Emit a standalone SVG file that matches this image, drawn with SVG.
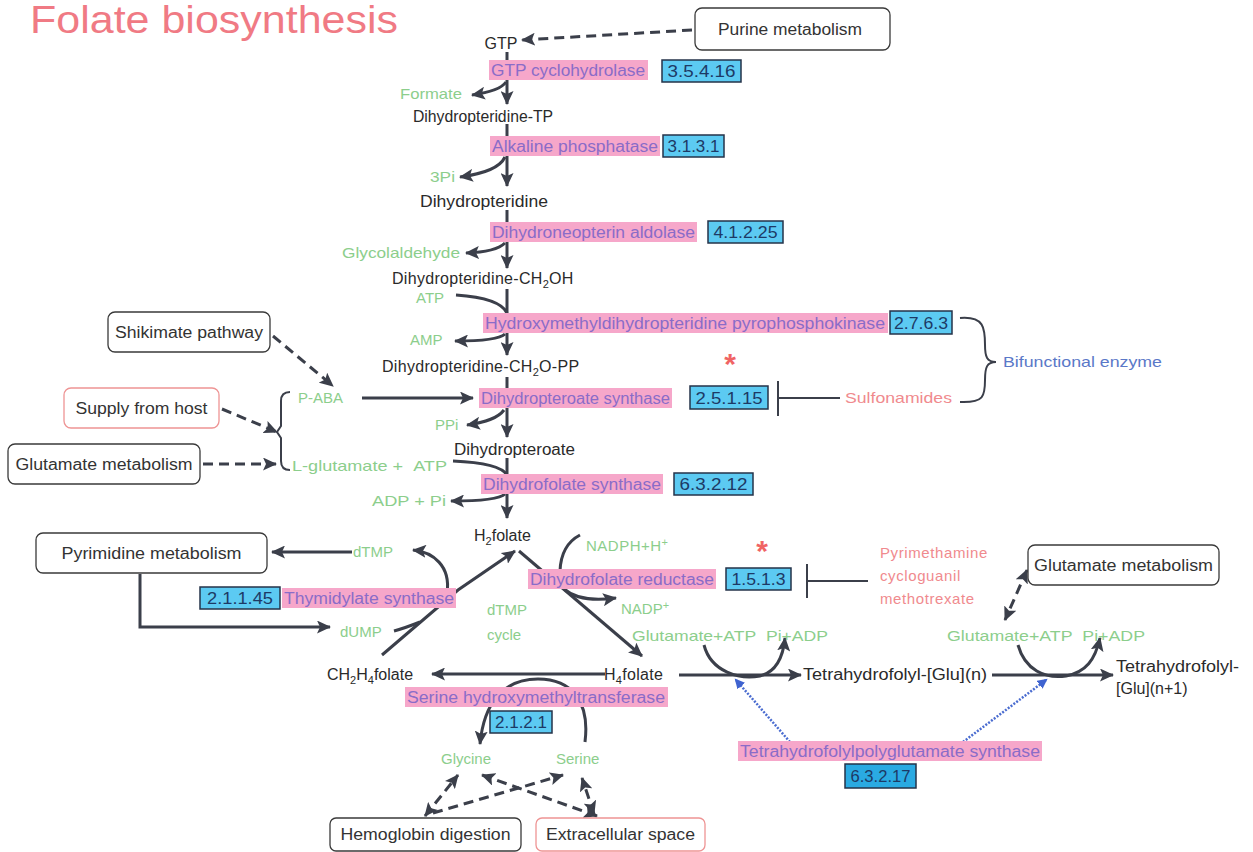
<svg xmlns="http://www.w3.org/2000/svg" width="1253" height="852" viewBox="0 0 1253 852">
<defs>
<marker id="ah" markerUnits="userSpaceOnUse" markerWidth="15" markerHeight="13" refX="13" refY="6.5" orient="auto-start-reverse"><path d="M0,0 L14,6.5 L0,13 L3,6.5 Z" fill="#3b3f4a"/></marker>
<marker id="ahb" markerUnits="userSpaceOnUse" markerWidth="12" markerHeight="10" refX="8" refY="5" orient="auto"><path d="M0,0 L10,5 L0,10 Z" fill="#3f63d0"/></marker>
<style>
text{font-family:"Liberation Sans",Arial,sans-serif;}
.m{font-size:16px;fill:#2a2a2a;}
.g{font-size:15px;fill:#8cce8c;}
.r{font-size:15px;fill:#f08a8e;}
.b{font-size:15px;fill:#5a78c8;}
.e{font-size:16px;fill:#8a6cc8;}
.ec{font-size:16.5px;fill:#1d3a66;text-anchor:middle;}
.bt{font-size:16px;fill:#333;text-anchor:middle;}
.pk{fill:#f6a7ca;}
.ecb{fill:#5ccaf2;stroke:#253349;stroke-width:1.5;}
.box{fill:#fff;stroke:#3a3a3a;stroke-width:1.3;}
.boxr{fill:#fff;stroke:#ee9494;stroke-width:1.3;}
.c{fill:none;stroke:#3b3f4a;stroke-width:3;}
.d{fill:none;stroke:#3b3f4a;stroke-width:3;stroke-dasharray:10 6;}
.bl{fill:none;stroke:#4a6cd0;stroke-width:2.5;stroke-dasharray:2 1.5;}
.in{fill:none;stroke:#3b3f4a;stroke-width:2;}
</style>
</defs>
<rect width="1253" height="852" fill="#fff"/>
<text x="30" y="33" font-size="38" fill="#f07a84" textLength="368" lengthAdjust="spacingAndGlyphs">Folate biosynthesis</text>

<g id="connectors">
<path class="c" d="M507,52 L507,104" marker-end="url(#ah)"/>
<path class="c" d="M506,82 Q500,91 472,95" marker-end="url(#ah)"/>
<path class="c" d="M507,124 L507,186" marker-end="url(#ah)"/>
<path class="c" d="M505,157 Q498,172 460,177" marker-end="url(#ah)"/>
<path class="c" d="M507,210 L507,268" marker-end="url(#ah)"/>
<path class="c" d="M505,243 Q496,252 466,253" marker-end="url(#ah)"/>
<path class="c" d="M507,289 L507,355" marker-end="url(#ah)"/>
<path class="c" d="M456,295 Q500,298 507,313"/>
<path class="c" d="M505,334 Q498,341 455,341" marker-end="url(#ah)"/>
<path class="c" d="M507,377 L507,437" marker-end="url(#ah)"/>
<path class="c" d="M504,410 Q496,421 467,425" marker-end="url(#ah)"/>
<path class="c" d="M362,398 L473,398" marker-end="url(#ah)"/>
<path class="c" d="M507,458 L507,518" marker-end="url(#ah)"/>
<path class="c" d="M453,461 Q500,463 507,475"/>
<path class="c" d="M505,494 Q498,501 451,501" marker-end="url(#ah)"/>
<path class="d" d="M692,30 L522,40" marker-end="url(#ah)"/>
<path class="d" d="M273,336 L333,386" marker-end="url(#ah)"/>
<path class="d" d="M222,409 L277,432" marker-end="url(#ah)"/>
<path class="d" d="M203,464 L276,464" marker-end="url(#ah)"/>
<path class="in" stroke-width="2.5" d="M290,392 Q281,392 281,401 L281,426 L277,432 L281,438 L281,461 Q281,470 290,470"/>
<path class="in" stroke-width="2.5" d="M960,318 C984,316 985,328 985,345 C985,357 987,362 996,362 C987,362 985,367 985,380 C985,396 984,403 960,402"/>
<path class="in" d="M778,381 L778,416 M778,398 L840,398"/>
<path class="in" d="M807,564 L807,598 M807,581 L868,581"/>
<path class="c" d="M352,552 L272,552" marker-end="url(#ah)"/>
<path class="c" d="M447,593 C451,566 433,552 413,550" marker-end="url(#ah)"/>
<path class="c" d="M140,574 L140,627 L330,627" marker-end="url(#ah)"/>
<path class="c" d="M394,631 Q405,628 420,622"/>
<path class="c" d="M382,655 L458,590 L515,551" marker-end="url(#ah)"/>
<path class="c" d="M519,551 L642,656" marker-end="url(#ah)"/>
<path class="c" d="M560,571 Q561,545 580,535"/>
<path class="c" d="M564,589 Q580,603 616,598" marker-end="url(#ah)"/>
<path class="c" d="M605,674 L432,674" marker-end="url(#ah)"/>
<path class="c" d="M585,742 C590,702 572,679 538,679 C504,679 484,702 480,744" marker-end="url(#ah)"/>
<path class="c" d="M679,675 L801,675" marker-end="url(#ah)"/>
<path class="c" d="M704,645 C711,672 740,680 760,676 C776,672 783,658 785,638" marker-end="url(#ah)"/>
<path class="c" d="M992,675 L1113,675" marker-end="url(#ah)"/>
<path class="c" d="M1018,645 C1025,670 1045,679 1066,676 C1086,672 1095,660 1100,638" marker-end="url(#ah)"/>
<path class="d" d="M1027,570 L1005,620" marker-start="url(#ah)" marker-end="url(#ah)"/>
<path class="bl" d="M790,742 L736,680" marker-end="url(#ahb)"/>
<path class="bl" d="M963,742 L1046,680" marker-end="url(#ahb)"/>
<path class="d" d="M425,816 L458,775" marker-start="url(#ah)" marker-end="url(#ah)"/>
<path class="d" d="M433,813 L563,775" marker-end="url(#ah)"/>
<path class="d" d="M597,816 L482,775" marker-start="url(#ah)" marker-end="url(#ah)"/>
<path class="d" d="M594,814 L582,778" marker-start="url(#ah)" marker-end="url(#ah)"/>
</g>

<g id="enzymes">
<g id="e-gtpch"><rect class="pk" x="489" y="60" width="159" height="20"/><text class="e" x="491" y="76" textLength="154" lengthAdjust="spacingAndGlyphs">GTP cyclohydrolase</text><rect class="ecb" x="662" y="60" width="79" height="22"/><text class="ec" x="701.5" y="77" textLength="68" lengthAdjust="spacingAndGlyphs">3.5.4.16</text></g>
<g id="e-alp"><rect class="pk" x="490" y="136" width="170" height="20"/><text class="e" x="492" y="152" textLength="166" lengthAdjust="spacingAndGlyphs">Alkaline phosphatase</text><rect class="ecb" x="663" y="135" width="61" height="22"/><text class="ec" x="693.5" y="152" textLength="52" lengthAdjust="spacingAndGlyphs">3.1.3.1</text></g>
<g id="e-dna"><rect class="pk" x="490" y="222" width="207" height="20"/><text class="e" x="492" y="238" textLength="203" lengthAdjust="spacingAndGlyphs">Dihydroneopterin aldolase</text><rect class="ecb" x="708" y="221" width="75" height="22"/><text class="ec" x="745.5" y="238" textLength="64" lengthAdjust="spacingAndGlyphs">4.1.2.25</text></g>
<g id="e-hppk"><rect class="pk" x="483" y="313" width="405" height="20"/><text class="e" x="485" y="329" textLength="400" lengthAdjust="spacingAndGlyphs">Hydroxymethyldihydropteridine pyrophosphokinase</text><rect class="ecb" x="890" y="311" width="62" height="23"/><text class="ec" x="921" y="328.5" textLength="54" lengthAdjust="spacingAndGlyphs">2.7.6.3</text></g>
<g id="e-dhps"><rect class="pk" x="479" y="388" width="193" height="20"/><text class="e" x="481" y="404" textLength="189" lengthAdjust="spacingAndGlyphs">Dihydropteroate synthase</text><rect class="ecb" x="690" y="386" width="78" height="23"/><text class="ec" x="729" y="403.5" textLength="67" lengthAdjust="spacingAndGlyphs">2.5.1.15</text></g>
<g id="e-dhfs"><rect class="pk" x="481" y="474" width="182" height="20"/><text class="e" x="483" y="490" textLength="178" lengthAdjust="spacingAndGlyphs">Dihydrofolate synthase</text><rect class="ecb" x="674" y="473" width="79" height="22"/><text class="ec" x="713.5" y="490" textLength="68" lengthAdjust="spacingAndGlyphs">6.3.2.12</text></g>
<g id="e-ts"><rect class="pk" x="282" y="588" width="174" height="20"/><text class="e" x="284" y="604" textLength="170" lengthAdjust="spacingAndGlyphs">Thymidylate synthase</text><rect class="ecb" x="200" y="587" width="80" height="22"/><text class="ec" x="240" y="604" textLength="66" lengthAdjust="spacingAndGlyphs">2.1.1.45</text></g>
<g id="e-dhfr"><rect class="pk" x="528" y="569" width="188" height="20"/><text class="e" x="530" y="585" textLength="184" lengthAdjust="spacingAndGlyphs">Dihydrofolate reductase</text><rect class="ecb" x="726" y="568" width="65" height="22"/><text class="ec" x="758.5" y="585" textLength="54" lengthAdjust="spacingAndGlyphs">1.5.1.3</text></g>
<g id="e-shmt"><rect class="pk" x="405" y="687" width="263" height="20"/><text class="e" x="407" y="703" textLength="258" lengthAdjust="spacingAndGlyphs">Serine hydroxymethyltransferase</text><rect class="ecb" x="490" y="711" width="62" height="22"/><text class="ec" x="521" y="728" textLength="52" lengthAdjust="spacingAndGlyphs">2.1.2.1</text></g>
<g id="e-fpgs"><rect class="pk" x="738" y="741" width="304" height="20"/><text class="e" x="740" y="757" textLength="300" lengthAdjust="spacingAndGlyphs">Tetrahydrofolylpolyglutamate synthase</text><rect class="ecb" x="845" y="764" width="71" height="24" style="fill:#2aaae2"/><text class="ec" x="880.5" y="782" textLength="60" lengthAdjust="spacingAndGlyphs">6.3.2.17</text></g>
</g>

<g id="pathway-boxes">
<g id="purine"><rect class="box" x="695" y="8" width="195" height="42" rx="7"/><text class="bt" x="790" y="35" textLength="144" lengthAdjust="spacingAndGlyphs">Purine metabolism</text></g>
<g id="shikimate"><rect class="box" x="108" y="312" width="162" height="40" rx="7"/><text class="bt" x="189" y="338" textLength="148" lengthAdjust="spacingAndGlyphs">Shikimate pathway</text></g>
<g id="supply"><rect class="boxr" x="64" y="388" width="155" height="40" rx="7"/><text class="bt" x="141.5" y="414" textLength="132" lengthAdjust="spacingAndGlyphs">Supply from host</text></g>
<g id="glutamate-left"><rect class="box" x="8" y="444" width="192" height="40" rx="7"/><text class="bt" x="104" y="470" textLength="177" lengthAdjust="spacingAndGlyphs">Glutamate metabolism</text></g>
<g id="pyrimidine"><rect class="box" x="36" y="533" width="231" height="40" rx="7"/><text class="bt" x="151.5" y="559" textLength="180" lengthAdjust="spacingAndGlyphs">Pyrimidine metabolism</text></g>
<g id="glutamate-right"><rect class="box" x="1028" y="545" width="191" height="40" rx="7"/><text class="bt" x="1123.5" y="571" textLength="179" lengthAdjust="spacingAndGlyphs">Glutamate metabolism</text></g>
<g id="hemoglobin"><rect class="box" x="330" y="818" width="191" height="33" rx="6"/><text class="bt" x="425.5" y="840" textLength="170" lengthAdjust="spacingAndGlyphs">Hemoglobin digestion</text></g>
<g id="extracellular"><rect class="boxr" x="536" y="818" width="169" height="33" rx="6"/><text class="bt" x="620.5" y="840" textLength="149" lengthAdjust="spacingAndGlyphs">Extracellular space</text></g>
</g>

<g id="compounds">
<text class="m" x="501" y="49" text-anchor="middle">GTP</text>
<text class="g" x="400" y="99" textLength="62" lengthAdjust="spacingAndGlyphs">Formate</text>
<text class="m" x="413" y="122" textLength="140" lengthAdjust="spacingAndGlyphs">Dihydropteridine-TP</text>
<text class="g" x="430" y="182" textLength="25" lengthAdjust="spacingAndGlyphs">3Pi</text>
<text class="m" x="420" y="207" textLength="128" lengthAdjust="spacingAndGlyphs">Dihydropteridine</text>
<text class="g" x="342" y="258" textLength="118" lengthAdjust="spacingAndGlyphs">Glycolaldehyde</text>
<text class="m" x="392" y="284" letter-spacing="0.3">Dihydropteridine-CH<tspan font-size="11" dy="4">2</tspan><tspan dy="-4">OH</tspan></text>
<text class="g" x="416" y="303">ATP</text>
<text class="g" x="410" y="345">AMP</text>
<text class="m" x="382" y="372" letter-spacing="0.3">Dihydropteridine-CH<tspan font-size="11" dy="4">2</tspan><tspan dy="-4">O-PP</tspan></text>
<text class="g" x="298" y="403">P-ABA</text>
<text class="g" x="435" y="430">PPi</text>
<text class="m" x="454" y="455" textLength="121" lengthAdjust="spacingAndGlyphs">Dihydropteroate</text>
<text class="g" x="292" y="471" textLength="155" lengthAdjust="spacingAndGlyphs">L-glutamate +&#160;&#160;ATP</text>
<text class="g" x="372" y="506" textLength="74" lengthAdjust="spacingAndGlyphs">ADP + Pi</text>
<text class="m" x="474" y="541">H<tspan font-size="11" dy="4">2</tspan><tspan dy="-4">folate</tspan></text>
<text class="g" x="353" y="557">dTMP</text>
<text class="g" x="586" y="551" letter-spacing="0.5">NADPH+H<tspan font-size="11" dy="-5">+</tspan></text>
<text class="g" x="487" y="615">dTMP</text>
<text class="g" x="487" y="640">cycle</text>
<text class="g" x="621" y="614">NADP<tspan font-size="11" dy="-5">+</tspan></text>
<text class="g" x="340" y="637">dUMP</text>
<text class="g" x="632" y="641" textLength="196" lengthAdjust="spacingAndGlyphs">Glutamate+ATP&#160;&#160;Pi+ADP</text>
<text class="g" x="947" y="641" textLength="198" lengthAdjust="spacingAndGlyphs">Glutamate+ATP&#160;&#160;Pi+ADP</text>
<text class="m" x="604" y="680" letter-spacing="0.3">H<tspan font-size="11" dy="4">4</tspan><tspan dy="-4">folate</tspan></text>
<text class="m" x="327" y="680">CH<tspan font-size="11" dy="4">2</tspan><tspan dy="-4">H</tspan><tspan font-size="11" dy="4">4</tspan><tspan dy="-4">folate</tspan></text>
<text class="m" x="803" y="680" textLength="184" lengthAdjust="spacingAndGlyphs">Tetrahydrofolyl-[Glu](n)</text>
<text class="m" x="1116" y="672" textLength="123" lengthAdjust="spacingAndGlyphs">Tetrahydrofolyl-</text>
<text class="m" x="1116" y="694">[Glu](n+1)</text>
<text class="g" x="441" y="764">Glycine</text>
<text class="g" x="556" y="764">Serine</text>
</g>

<g id="inhibitors">
<text class="r" x="845" y="403" textLength="107" lengthAdjust="spacingAndGlyphs">Sulfonamides</text>
<text class="r" x="880" y="558" letter-spacing="0.6">Pyrimethamine</text>
<text class="r" x="880" y="581" letter-spacing="0.6">cycloguanil</text>
<text class="r" x="880" y="604" letter-spacing="0.6">methotrexate</text>
<text x="730" y="374" font-size="30" font-weight="bold" fill="#f06464" text-anchor="middle">*</text>
<text x="762" y="561" font-size="30" font-weight="bold" fill="#f06464" text-anchor="middle">*</text>
<text class="b" x="1003" y="367" textLength="159" lengthAdjust="spacingAndGlyphs">Bifunctional enzyme</text>
</g>
</svg>
